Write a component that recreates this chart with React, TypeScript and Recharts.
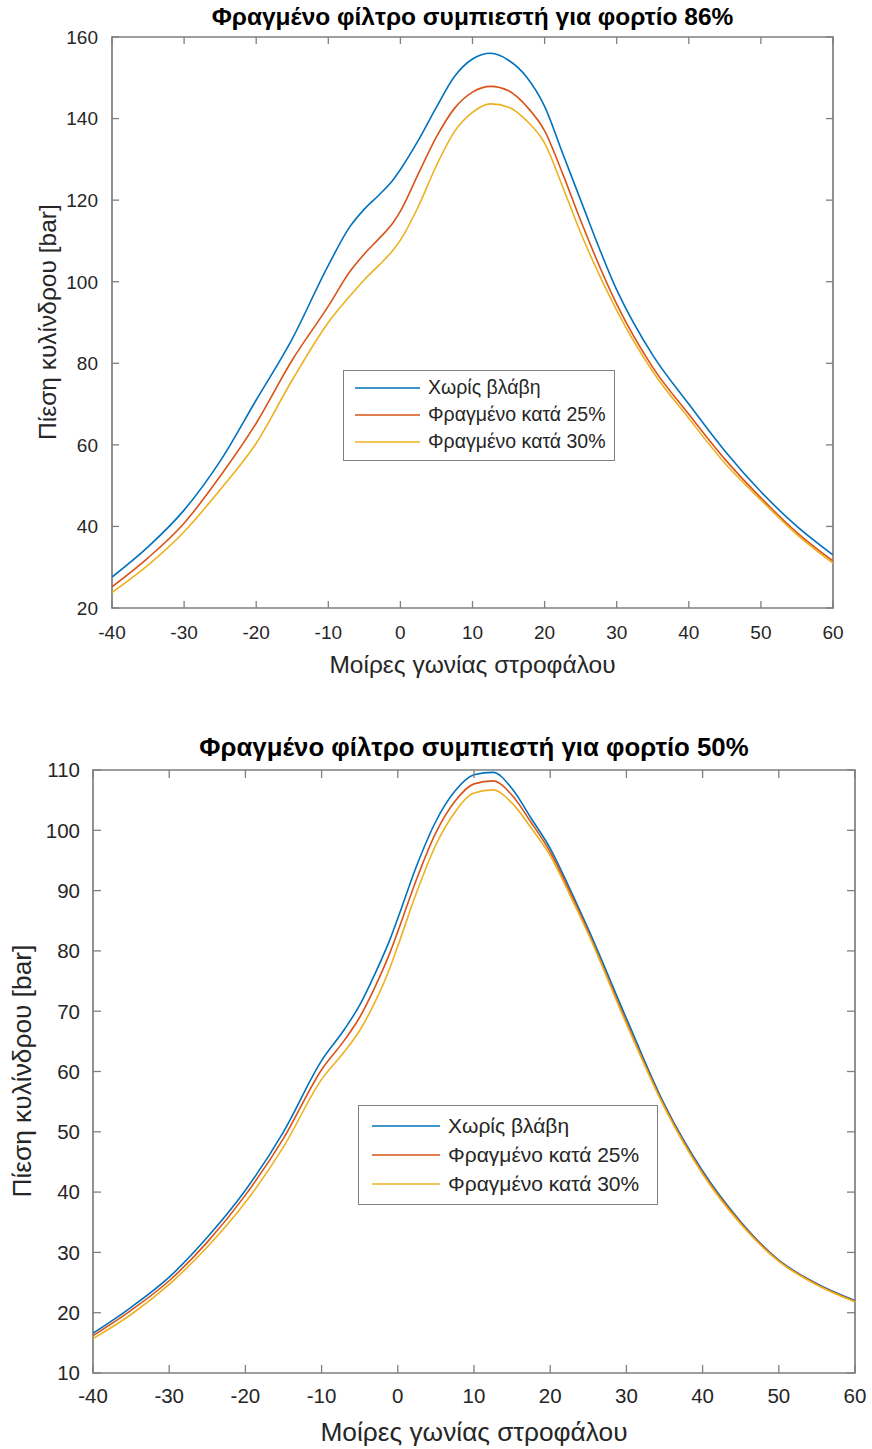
import { LineChart, Line, XAxis, YAxis, Legend, ReferenceArea } from "recharts";

const angles = [-40, -35, -30, -25, -20, -15, -10, -7, -5, -3, -1, 0, 2.5, 5, 7.5, 10, 12.5, 15, 17.5, 20, 22.5, 25, 30, 35, 40, 45, 50, 55, 60];

// load 86%
const healthy86 = [27.6, 35, 44, 56, 71, 86, 104, 113.5, 117.8, 121.2, 125, 127.5, 134.7, 142.8, 150.3, 154.6, 156, 154.3, 150.2, 143, 131.5, 120, 98, 82, 70, 58.5, 48.5, 40, 33];
const blocked25_86 = [25.2, 32.3, 40.8, 52.3, 65.3, 80.8, 94, 102.5, 106.8, 110.5, 114.5, 117.3, 126.5, 135.5, 142.5, 146.5, 147.9, 146.8, 143, 137, 126.5, 115, 94.5, 79, 67.5, 56.5, 47, 38.5, 31.5];
const blocked30_86 = [23.8, 30.5, 38.7, 49, 60.4, 75.9, 90, 96.5, 100.5, 104, 107.8, 110.2, 118.5, 128.5, 136.8, 141.5, 143.6, 142.8, 139.5, 134, 123.3, 112, 93, 78, 66.5, 55.5, 46.5, 38, 31];

// load 50%
const healthy50 = [16.6, 20.9, 25.9, 32.5, 40.3, 50, 61.8, 67, 71, 76.2, 82, 85.4, 94.2, 101.5, 106.5, 109.2, 109.6, 106.9, 102, 97, 90.5, 83.6, 68.8, 54.5, 43.5, 35.1, 28.7, 24.8, 22];
const blocked25_50 = [16.2, 20.4, 25.3, 31.7, 39.5, 48.9, 60.3, 65.2, 69, 74, 79.8, 83.2, 92, 99.6, 104.8, 107.7, 108.2, 105.8, 101.3, 96.4, 90, 83.1, 68.2, 54.2, 43.2, 34.9, 28.6, 24.7, 21.9];
const blocked30_50 = [15.7, 19.7, 24.7, 30.9, 38.3, 47.5, 58.7, 63.3, 66.8, 71.5, 77.3, 80.8, 89.8, 97.6, 103, 106.2, 106.7, 104.5, 100.4, 95.8, 89.5, 82.8, 67.9, 54, 43, 34.7, 28.5, 24.6, 21.8];

const seriesNames = ["Χωρίς βλάβη", "Φραγμένο κατά 25%", "Φραγμένο κατά 30%"];
const colors = ["#0072BD", "#D95319", "#EDB120"];

const xTicks = [-40, -30, -20, -10, 0, 10, 20, 30, 40, 50, 60];
const yTicks86 = [20, 40, 60, 80, 100, 120, 140, 160];
const yTicks50 = [10, 20, 30, 40, 50, 60, 70, 80, 90, 100, 110];

const FONT = '"Liberation Sans", Arial, sans-serif';
const AXIS = "#7f7f7f";
const TEXT = "#262626";

const buildRows = (a: number[], b: number[], c: number[]) =>
  angles.map((angle, i) => ({ angle, s0: a[i], s1: b[i], s2: c[i] }));

type Sizes = {
  tick: number;
  label: number;
  title: number;
  legend: number;
  tickLen: number;
  xTickBase: number;
  yTickGap: number;
  xLabelGap: number;
  yLabelX: number;
  titleY: number;
  rowH: number;
  padTop: number;
  sampleX: number;
  sampleW: number;
};

type Props = {
  top: number;
  height: number;
  plot: { x: number; y: number; w: number; h: number };
  title: string;
  rows: Array<Record<string, number>>;
  yTicks: number[];
  sz: Sizes;
  legendBox: { x: number; y: number; w: number; h: number };
};

function PressureChart({ top, height, plot, title, rows, yTicks, sz, legendBox }: Props) {
  const yAxisW = 70;
  const xAxisH = 30;
  // plot edges in svg coords
  const pl = plot.x;
  const pr = plot.x + plot.w;
  const pt = plot.y - top;
  const pb = plot.y + plot.h - top;
  const yMin = yTicks[0];
  const yMax = yTicks[yTicks.length - 1];

  const renderXTick = (p: any) => (
    <g>
      <line x1={p.x} x2={p.x} y1={pb} y2={pb - sz.tickLen} stroke={AXIS} strokeWidth={1.3} />
      <line x1={p.x} x2={p.x} y1={pt} y2={pt + sz.tickLen} stroke={AXIS} strokeWidth={1.3} />
      <text x={p.x} y={pb + sz.xTickBase} textAnchor="middle" fill={TEXT} fontSize={sz.tick} fontFamily={FONT}>
        {p.payload.value}
      </text>
    </g>
  );

  const renderYTick = (p: any) => (
    <g>
      <line x1={pl} x2={pl + sz.tickLen} y1={p.y} y2={p.y} stroke={AXIS} strokeWidth={1.3} />
      <line x1={pr} x2={pr - sz.tickLen} y1={p.y} y2={p.y} stroke={AXIS} strokeWidth={1.3} />
      <text x={pl - sz.yTickGap} y={p.y + sz.tick * 0.36} textAnchor="end" fill={TEXT} fontSize={sz.tick} fontFamily={FONT}>
        {p.payload.value}
      </text>
    </g>
  );

  const renderLegend = () => (
    <div
      style={{
        width: legendBox.w,
        height: legendBox.h,
        boxSizing: "border-box",
        border: `1.5px solid ${AXIS}`,
        background: "#fff",
        paddingTop: sz.padTop,
        paddingLeft: sz.sampleX,
        fontFamily: FONT,
        fontSize: sz.legend,
        color: TEXT,
      }}
    >
      {seriesNames.map((name, i) => (
        <div key={name} style={{ display: "flex", alignItems: "center", height: sz.rowH, whiteSpace: "nowrap" }}>
          <svg width={sz.sampleW} height={6} style={{ marginRight: 8 }}>
            <line x1={0} y1={3} x2={sz.sampleW} y2={3} stroke={colors[i]} strokeWidth={1.6} />
          </svg>
          <span>{name}</span>
        </div>
      ))}
    </div>
  );

  return (
    <div style={{ position: "absolute", left: 0, top, width: 872, height }}>
      <LineChart
        width={872}
        height={height}
        data={rows}
        margin={{
          top: pt,
          left: plot.x - yAxisW,
          right: 872 - pr,
          bottom: height - pb - xAxisH,
        }}
      >
        <XAxis
          dataKey="angle"
          type="number"
          domain={[-40, 60]}
          ticks={xTicks}
          interval={0}
          allowDataOverflow
          height={xAxisH}
          axisLine={false}
          tickLine={false}
          tick={renderXTick}
        />
        <YAxis
          type="number"
          domain={[yMin, yMax]}
          ticks={yTicks}
          interval={0}
          allowDataOverflow
          width={yAxisW}
          axisLine={false}
          tickLine={false}
          tick={renderYTick}
        />
        <ReferenceArea
          x1={-40}
          x2={60}
          y1={yMin}
          y2={yMax}
          fill="none"
          fillOpacity={0}
          stroke={AXIS}
          strokeWidth={1.7}
        />
        <Legend
          layout="horizontal"
          verticalAlign="middle"
          align="center"
          content={renderLegend}
          wrapperStyle={{ left: legendBox.x, top: legendBox.y - top, width: legendBox.w, height: legendBox.h }}
        />
        {["s0", "s1", "s2"].map((k, i) => (
          <Line
            key={k}
            dataKey={k}
            name={seriesNames[i]}
            type="monotone"
            stroke={colors[i]}
            strokeWidth={1.6}
            dot={false}
            isAnimationActive={false}
          />
        ))}
      </LineChart>

      <div
        style={{
          position: "absolute",
          left: (pl + pr) / 2 - 400,
          width: 800,
          top: sz.titleY - top - sz.title * 0.58,
          lineHeight: `${sz.title * 1.15}px`,
          textAlign: "center",
          fontFamily: FONT,
          fontWeight: "bold",
          fontSize: sz.title,
          color: "#000",
        }}
      >
        {title}
      </div>
      <div
        style={{
          position: "absolute",
          left: (pl + pr) / 2 - 300,
          width: 600,
          top: pb + sz.xLabelGap,
          lineHeight: `${sz.label * 1.15}px`,
          textAlign: "center",
          fontFamily: FONT,
          fontSize: sz.label,
          color: TEXT,
        }}
      >
        Μοίρες γωνίας στροφάλου
      </div>
      <div
        style={{
          position: "absolute",
          left: sz.yLabelX - 250,
          width: 500,
          top: (pt + pb) / 2 - sz.label * 0.575,
          lineHeight: `${sz.label * 1.15}px`,
          textAlign: "center",
          transform: "rotate(-90deg)",
          fontFamily: FONT,
          fontSize: sz.label,
          color: TEXT,
        }}
      >
        Πίεση κυλίνδρου [bar]
      </div>
    </div>
  );
}

export default function App() {
  return (
    <div style={{ position: "absolute", left: 0, top: 0, width: 872, height: 1449, background: "#fff" }}>
      <PressureChart
        top={0}
        height={700}
        plot={{ x: 112, y: 37, w: 721, h: 571 }}
        title="Φραγμένο φίλτρο συμπιεστή για φορτίο 86%"
        rows={buildRows(healthy86, blocked25_86, blocked30_86)}
        yTicks={yTicks86}
        sz={{
          tick: 19,
          label: 24.5,
          title: 24.5,
          legend: 19.5,
          tickLen: 7,
          xTickBase: 31,
          yTickGap: 14,
          xLabelGap: 43,
          yLabelX: 48,
          titleY: 17,
          rowH: 27,
          padTop: 3,
          sampleX: 11,
          sampleW: 65,
        }}
        legendBox={{ x: 343, y: 370, w: 272, h: 91 }}
      />
      <PressureChart
        top={720}
        height={729}
        plot={{ x: 93, y: 770, w: 762, h: 603 }}
        title="Φραγμένο φίλτρο συμπιεστή για φορτίο 50%"
        rows={buildRows(healthy50, blocked25_50, blocked30_50)}
        yTicks={yTicks50}
        sz={{
          tick: 20.5,
          label: 26.3,
          title: 25.8,
          legend: 21,
          tickLen: 8,
          xTickBase: 30,
          yTickGap: 13,
          xLabelGap: 44,
          yLabelX: 22,
          titleY: 748,
          rowH: 29,
          padTop: 5,
          sampleX: 13,
          sampleW: 68,
        }}
        legendBox={{ x: 358, y: 1105, w: 300, h: 100 }}
      />
    </div>
  );
}
